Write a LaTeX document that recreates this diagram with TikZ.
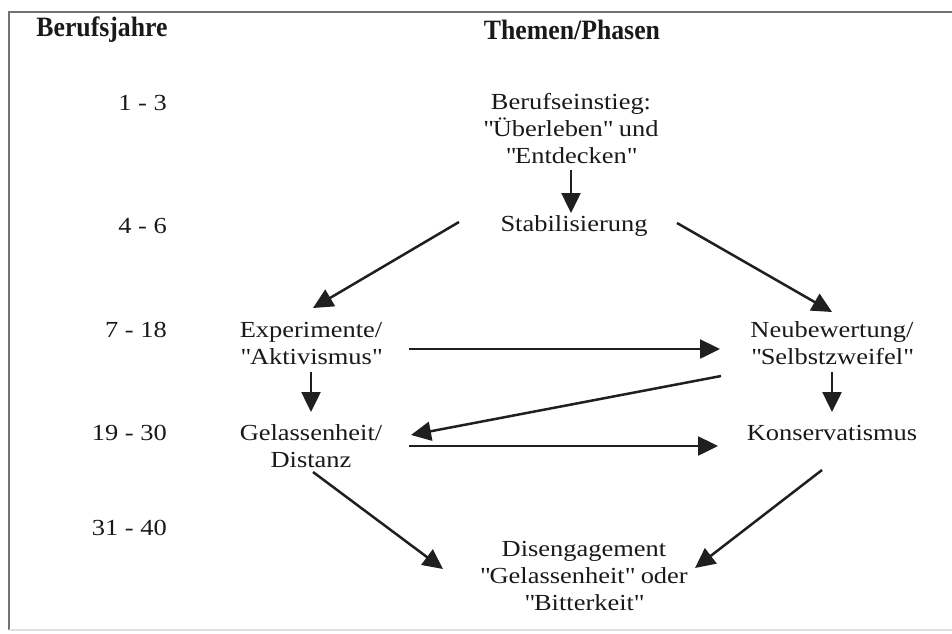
\documentclass[tikz,border=0pt]{standalone}
\usepackage{fontspec}
\setmainfont{Liberation Serif}[FakeStretch=1.15]
\newfontfamily\headfont{Liberation Serif}[FakeStretch=0.92]
\usepackage{tikz}
\usetikzlibrary{arrows.meta,calc}
\newcommand{\qd}{\textquotedbl}
\tikzstyle{phase} = [align=center, inner sep=0pt, font=\fontsize{23}{27}\selectfont, text=black!90]
\tikzstyle{years} = [anchor=east, inner sep=0pt, font=\fontsize{23}{27}\selectfont, text=black!90]
\tikzstyle{head} = [inner sep=0pt, font=\headfont\fontsize{28}{30}\selectfont\bfseries, text=black!90]
\tikzstyle{arrow} = [line width=2.5pt, draw=black!88, -{Triangle[length=20pt,width=19pt]}]
\tikzstyle{frame} = [line width=2pt, draw=black!55]

\begin{document}
\begin{tikzpicture}[x=1pt, y=-1pt]
\useasboundingbox (0,0) rectangle (952,633);

%Rahmen==============================================
\draw [frame] (952,12) -- (9,12) -- (9,630);
\draw [frame, draw=black!12] (9,630) -- (952,630);

%Kopf==============================================
\node (hyears) [head] at (102,30) {Berufsjahre};
\node (hphase) [head] at (572,30) {Themen/Phasen};

%Berufsjahre==============================================
\node (y1) [years] at (167,103) {1 - 3};
\node (y2) [years] at (167,226) {4 - 6};
\node (y3) [years] at (167,330) {7 - 18};
\node (y4) [years] at (167,433) {19 - 30};
\node (y5) [years] at (167,528) {31 - 40};

%Phasen==============================================
\node (einst) [phase] at (571,129) {Berufseinstieg:\\\qd Überleben\qd{} und\\\qd Entdecken\qd};
\node (stab) [phase] at (574,226) {Stabilisierung};
\node (exp) [phase] at (311,343) {Experimente/\\\qd Aktivismus\qd};
\node (neu) [phase] at (832,343) {Neubewertung/\\\qd Selbstzweifel\qd};
\node (gel) [phase] at (311,446) {Gelassenheit/\\Distanz};
\node (kon) [phase] at (832,433) {Konservatismus};
\node (dis) [phase] at (584,576) {Disengagement\\\qd Gelassenheit\qd{} oder\\\qd Bitterkeit\qd};

%Pfeile==============================================
\draw [arrow] ($(einst)+(0,41)$) -- ($(stab)+(-3,-13)$);
\draw [arrow] ($(stab)+(-115,-4)$) -- ($(exp)+(2,-35)$);
\draw [arrow] ($(stab)+(103,-3)$) -- ($(neu)+(0,-31)$);
\draw [arrow] ($(exp)+(98,6)$) -- ($(neu)+(-112,6)$);
\draw [arrow] ($(neu)+(-111,33)$) -- ($(gel)+(100,-11)$);
\draw [arrow] ($(gel)+(98,0)$) -- ($(kon)+(-114,13)$);
\draw [arrow] ($(exp)+(0,29)$) -- ($(gel)+(0,-34)$);
\draw [arrow] ($(neu)+(0,29)$) -- ($(kon)+(0,-21)$);
\draw [arrow] ($(gel)+(2,26)$) -- ($(dis)+(-141,-7)$);
\draw [arrow] ($(kon)+(-10,37)$) -- ($(dis)+(111,-8)$);
\end{tikzpicture}
\end{document}
